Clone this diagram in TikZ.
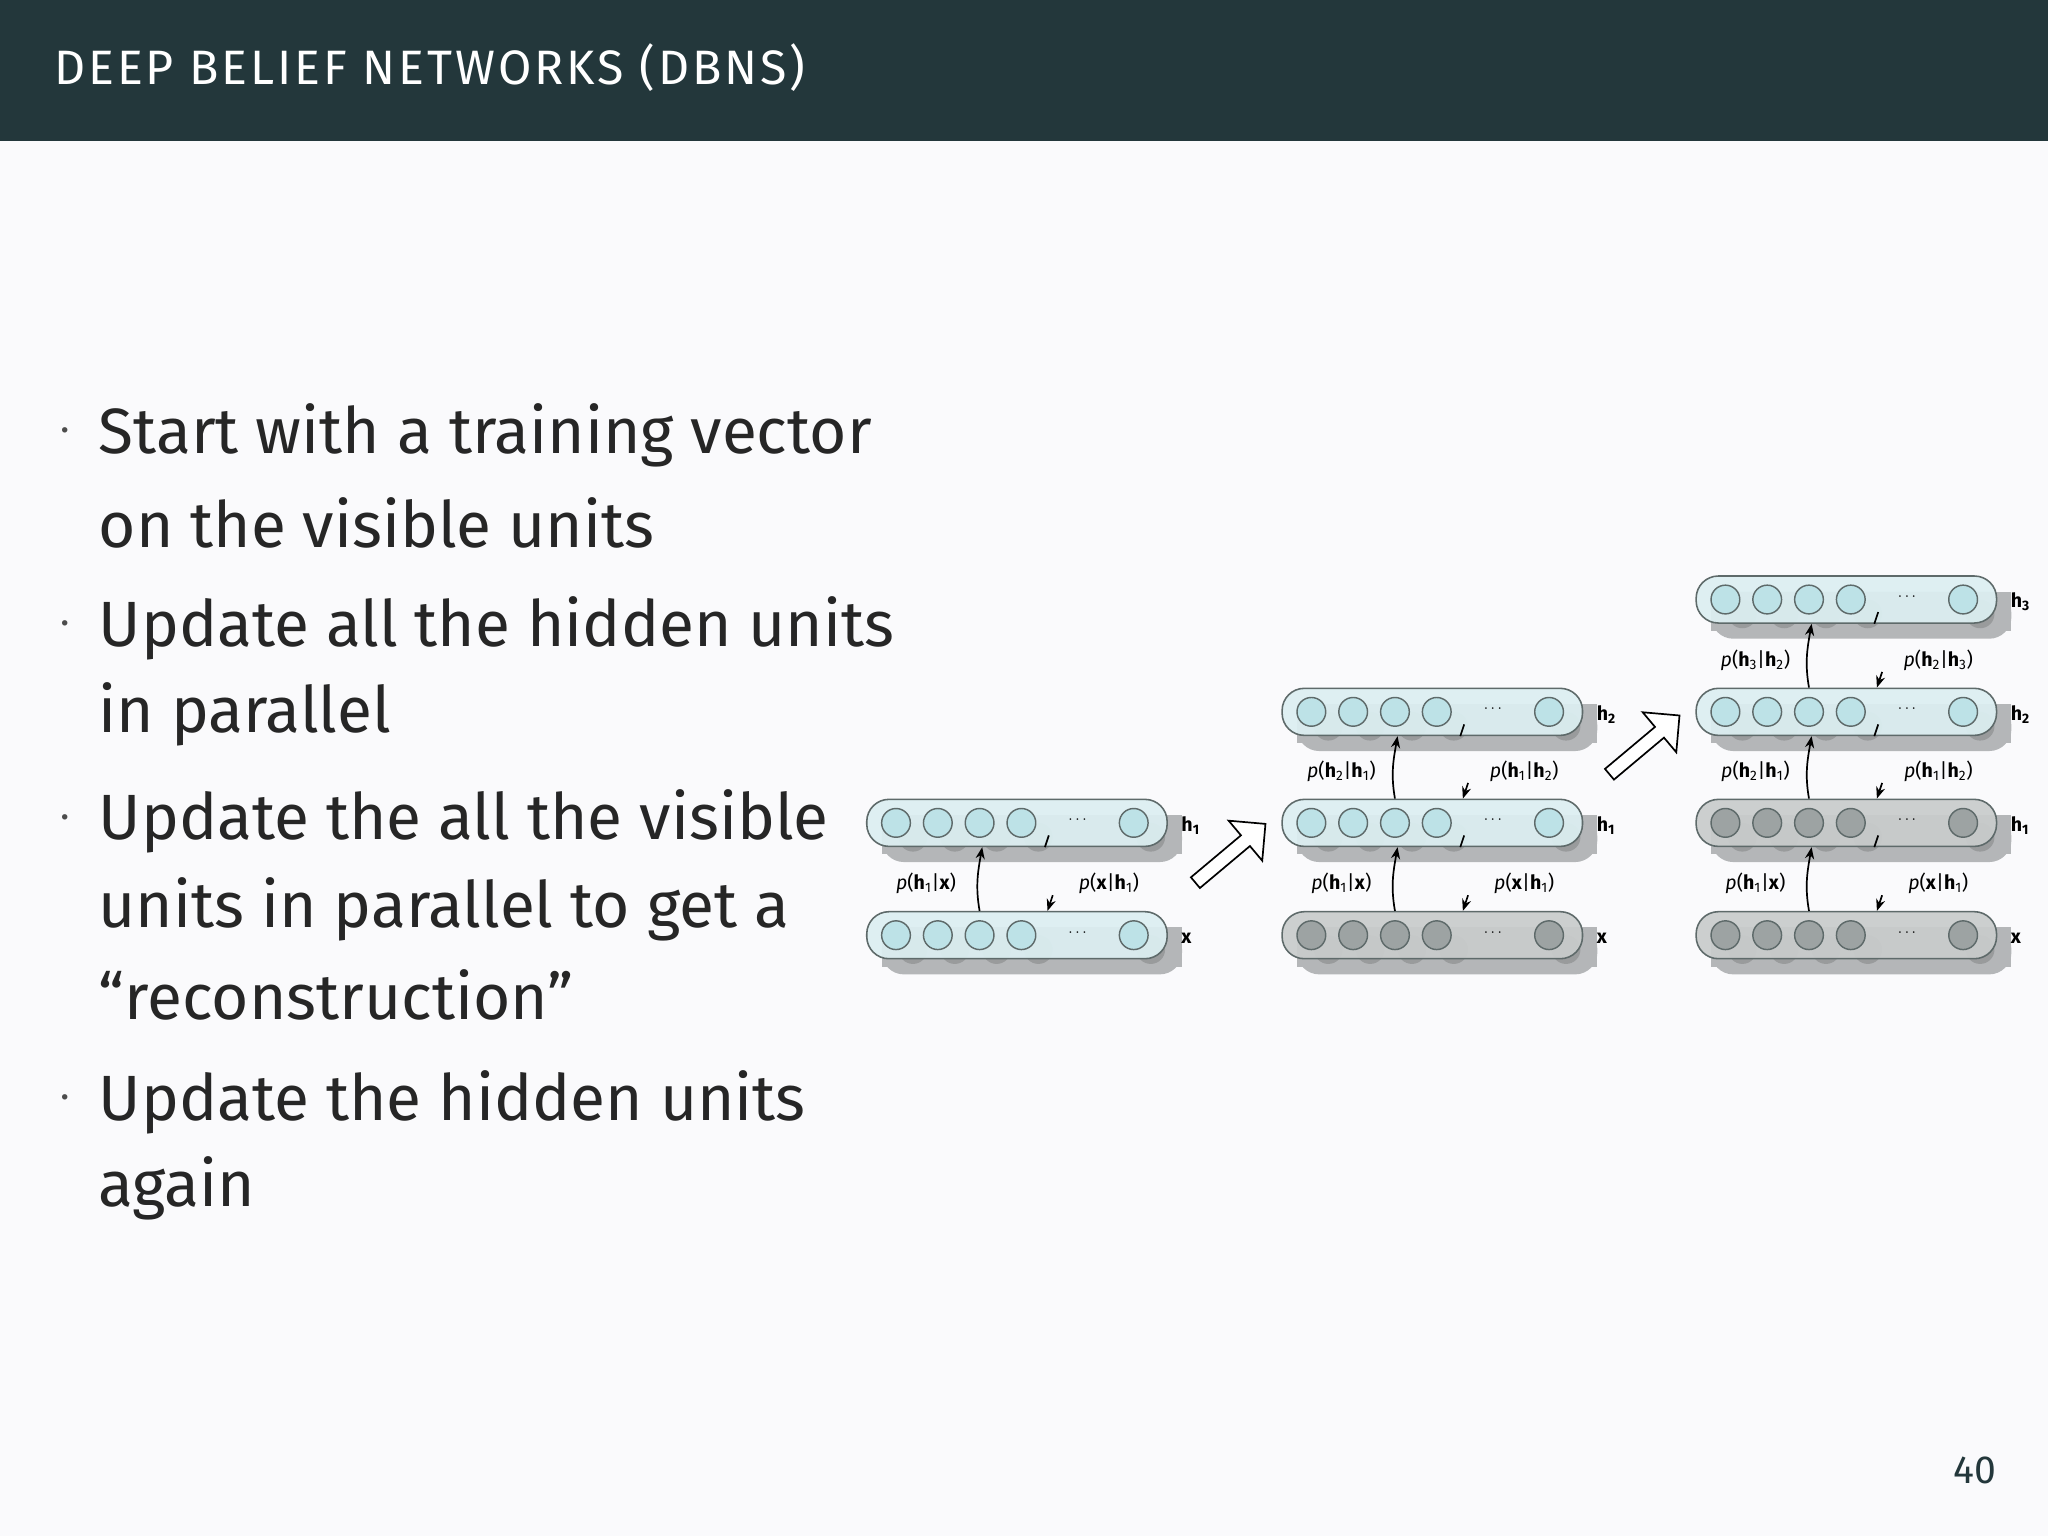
\documentclass[tikz,border=0pt]{standalone}
\usepackage{fontspec}
\setmainfont{Fira Sans}
\usetikzlibrary{shapes.arrows}
\definecolor{bg}{HTML}{FAFAFC}
\definecolor{bar}{HTML}{23373B}
\definecolor{lfill}{HTML}{DCEFF2}
\definecolor{cfill}{HTML}{BDE2E7}
\definecolor{gfill}{HTML}{C9CCCC}
\definecolor{gcfill}{HTML}{9DA3A3}
\definecolor{edge}{HTML}{5E6A6A}
\definecolor{shad}{HTML}{B4B6B8}
\tikzset{
  lay/.style={draw=edge,line width=1.2pt,rounded corners=17pt,minimum width=230pt,minimum height=36pt,inner sep=0pt},
  unit/.style={circle,draw=edge,line width=1.1pt,minimum size=22pt,inner sep=0pt},
  lbl/.style={font=\fontsize{15}{17}\selectfont},
  bul/.style={anchor=west,font=\fontsize{49}{55}\selectfont,text=black!85},
  conn/.style={line width=1.3pt,-{Stealth[length=9pt,width=7pt]}},
  big/.style={single arrow,draw=black,line width=1.3pt,fill=white,minimum height=70pt,minimum width=40pt,single arrow head extend=10pt,inner sep=3pt,rotate=40}
}
\usetikzlibrary{arrows.meta}
% #1 name, #2 x-left, #3 y-center, #4 layer fill, #5 circle fill, #6 label
\newcommand{\mylayer}[6]{%
  \fill[shad] (#2+12,#3-6) rectangle ++(230,30);
  \fill[shad,rounded corners=17pt] (#2+12,#3-6) rectangle ++(230,36);
  \foreach \cx in {23,55,87,119,205}{\fill[shad!85!black] (#2+\cx+13,#3+11) circle (11);}
  \node[lay,fill=#4,fill opacity=0.93,anchor=west] (#1) at (#2,#3) {};
  \foreach \cx/\k in {23/a,55/b,87/c,119/d,205/e}{\node[unit,fill=#5] (#1\k) at (#2+\cx,#3) {};}
  \node[font=\fontsize{13}{13}\selectfont] at (#2+162,#3-2) {$\cdots$};
  \node[lbl,anchor=west] (#1l) at (#2+238,#3+2) {\textbf{#6}};
}
% arrows between layers: #1 bottom, #2 top, #3 x-left, #4 up label, #5 down label
\newcommand{\myconn}[5]{%
  \draw[conn] (#1.north west)++(87,0) to[out=100,in=-100] ($(#2.south west)+(89,0)$);
  \draw[line width=1.3pt] ($(#2.south west)+(137,0)$) -- ++(3,-9);
  \draw[conn] ($(#1.north west)+(143,-12)$) -- ($(#1.north west)+(139,0)$);
  \node[lbl] at ($(#1.north west)+(46,-21)$) {#4};
  \node[lbl] at ($(#1.north west)+(186,-21)$) {#5};
}
\usetikzlibrary{calc}
\begin{document}
\begin{tikzpicture}[x=1pt,y=-1pt]
\fill[bg] (0,0) rectangle (1568,1176);
\fill[bar] (0,0) rectangle (1568,108);
\node[anchor=west,text=white,font=\fontsize{37}{40}\selectfont] (title) at (38,52) {\addfontfeature{LetterSpace=6}DEEP BELIEF NETWORKS (DBNS)};
\foreach \y/\t [count=\i] in {333/{Start with a training vector},400/{on the visible units},481/{Update all the hidden units},547/{in parallel},629/{Update the all the visible},696/{units in parallel to get a},762/{“reconstruction”},844/{Update the hidden units},910/{again}}{
  \node[bul] (t\i) at (72,\y) {\t};
}
\foreach \y [count=\i] in {333,481,629,844}{\node[font=\fontsize{30}{30}\selectfont,text=black!70] (b\i) at (50,\y) {·};}
\node[text=bar,font=\fontsize{30}{30}\selectfont] (pg) at (1512,1126) {40};
% panel 1
\mylayer{pa1}{663}{716}{lfill}{cfill}{x}
\mylayer{pa2}{663}{630}{lfill}{cfill}{h\textsubscript{1}}
\myconn{pa1}{pa2}{663}{\textit{p}(\textbf{h}\textsubscript{1}|\textbf{x})}{\textit{p}(\textbf{x}|\textbf{h}\textsubscript{1})}
% panel 2
\mylayer{pb1}{981}{716}{gfill}{gcfill}{x}
\mylayer{pb2}{981}{630}{lfill}{cfill}{h\textsubscript{1}}
\mylayer{pb3}{981}{545}{lfill}{cfill}{h\textsubscript{2}}
\myconn{pb1}{pb2}{981}{\textit{p}(\textbf{h}\textsubscript{1}|\textbf{x})}{\textit{p}(\textbf{x}|\textbf{h}\textsubscript{1})}
\myconn{pb2}{pb3}{981}{\textit{p}(\textbf{h}\textsubscript{2}|\textbf{h}\textsubscript{1})}{\textit{p}(\textbf{h}\textsubscript{1}|\textbf{h}\textsubscript{2})}
% panel 3
\mylayer{pc1}{1298}{716}{gfill}{gcfill}{x}
\mylayer{pc2}{1298}{630}{gfill}{gcfill}{h\textsubscript{1}}
\mylayer{pc3}{1298}{545}{lfill}{cfill}{h\textsubscript{2}}
\mylayer{pc4}{1298}{459}{lfill}{cfill}{h\textsubscript{3}}
\myconn{pc1}{pc2}{1298}{\textit{p}(\textbf{h}\textsubscript{1}|\textbf{x})}{\textit{p}(\textbf{x}|\textbf{h}\textsubscript{1})}
\myconn{pc2}{pc3}{1298}{\textit{p}(\textbf{h}\textsubscript{2}|\textbf{h}\textsubscript{1})}{\textit{p}(\textbf{h}\textsubscript{1}|\textbf{h}\textsubscript{2})}
\myconn{pc3}{pc4}{1298}{\textit{p}(\textbf{h}\textsubscript{3}|\textbf{h}\textsubscript{2})}{\textit{p}(\textbf{h}\textsubscript{2}|\textbf{h}\textsubscript{3})}
\node[big] (ar1) at (940,655) {};
\node[big] (ar2) at (1257,572) {};
\end{tikzpicture}
\end{document}
